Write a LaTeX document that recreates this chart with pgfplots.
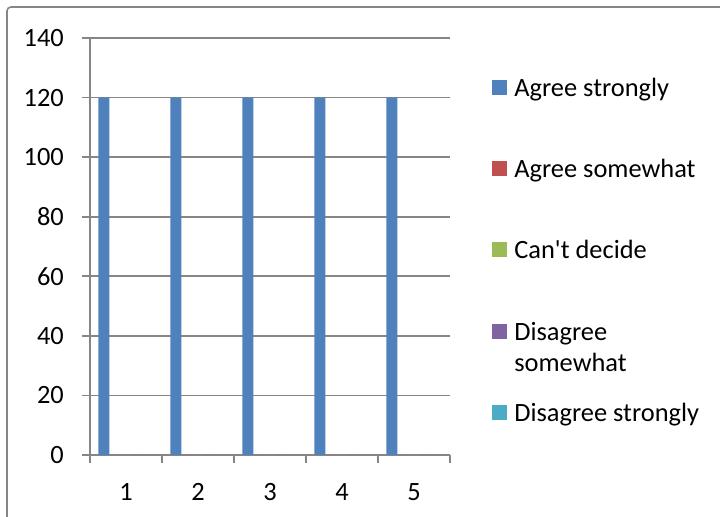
\documentclass[border=0pt]{standalone}
\usepackage{pgfplots}
\pgfplotsset{compat=1.18}
\usepackage{fontspec}
\setmainfont{Carlito}

\definecolor{s1}{HTML}{4F81BD}
\definecolor{s2}{HTML}{C0504D}
\definecolor{s3}{HTML}{9BBB59}
\definecolor{s4}{HTML}{8064A2}
\definecolor{s5}{HTML}{4BACC6}
\definecolor{gridc}{HTML}{868686}

\begin{document}
\begin{tikzpicture}
\fontsize{13.2}{15.6}\selectfont
\useasboundingbox (0,0) rectangle (360pt,258.5pt);
% outer chart frame
\draw[gridc, line width=0.8pt, rounded corners=2pt] (3.5pt,-5pt) -- (3.5pt,255pt) -- (365pt,255pt);
\begin{axis}[
    at={(45pt,31pt)}, anchor=south west,
    scale only axis,
    width=180pt, height=208.5pt,
    ybar=0pt, bar width=5.54pt,
    xmin=0.5, xmax=5.5,
    ymin=0, ymax=140,
    xtick={1,2,3,4,5},
    minor xtick={0.5,1.5,2.5,3.5,4.5,5.5},
    ytick={0,20,...,140},
    axis lines*=left,
    axis line style={gridc, line width=0.8pt},
    tick align=outside,
    major tick length=4pt, minor tick length=4pt,
    major x tick style={draw=none},
    minor x tick style={gridc, line width=0.8pt},
    major y tick style={gridc, line width=0.8pt},
    ymajorgrids,
    major grid style={gridc, line width=0.8pt},
    /pgf/number format/assume math mode=true,
    tick label style={font=\fontsize{13.2}{15.6}\selectfont},
    yticklabel style={xshift=-4.5pt},
    xticklabel style={yshift=-5.5pt},
    legend cell align=left,
    legend style={draw=none, fill=none, inner sep=0pt,
        at={(axis description cs:1.1167,0.923)}, anchor=north west,
        font=\fontsize{13.2}{15.6}\selectfont, row sep=23.75pt},
    legend image code/.code={\fill[#1] (0pt,-3.75pt) rectangle (7.5pt,3.75pt);},
]
\addplot[fill=s1, draw=none] coordinates {(1,120) (2,120) (3,120) (4,120) (5,120)};
\addplot[fill=s2, draw=none] coordinates {(1,0) (2,0) (3,0) (4,0) (5,0)};
\addplot[fill=s3, draw=none] coordinates {(1,0) (2,0) (3,0) (4,0) (5,0)};
\addplot[fill=s4, draw=none] coordinates {(1,0) (2,0) (3,0) (4,0) (5,0)};
\addplot[fill=s5, draw=none] coordinates {(1,0) (2,0) (3,0) (4,0) (5,0)};
\addlegendentry{\hspace*{1.5pt}\strut Agree strongly}
\addlegendentry{\hspace*{1.5pt}\strut Agree somewhat}
\addlegendentry{\hspace*{1.5pt}\strut Can\textquotesingle t decide}
\addlegendentry{\hspace*{1.5pt}\raisebox{0pt}[\height][\dp\strutbox]{\begin{tabular}[t]{@{}l@{}}Disagree\\somewhat\end{tabular}}}
\addlegendentry{\hspace*{1.5pt}\strut Disagree strongly}
\end{axis}
\end{tikzpicture}
\end{document}
